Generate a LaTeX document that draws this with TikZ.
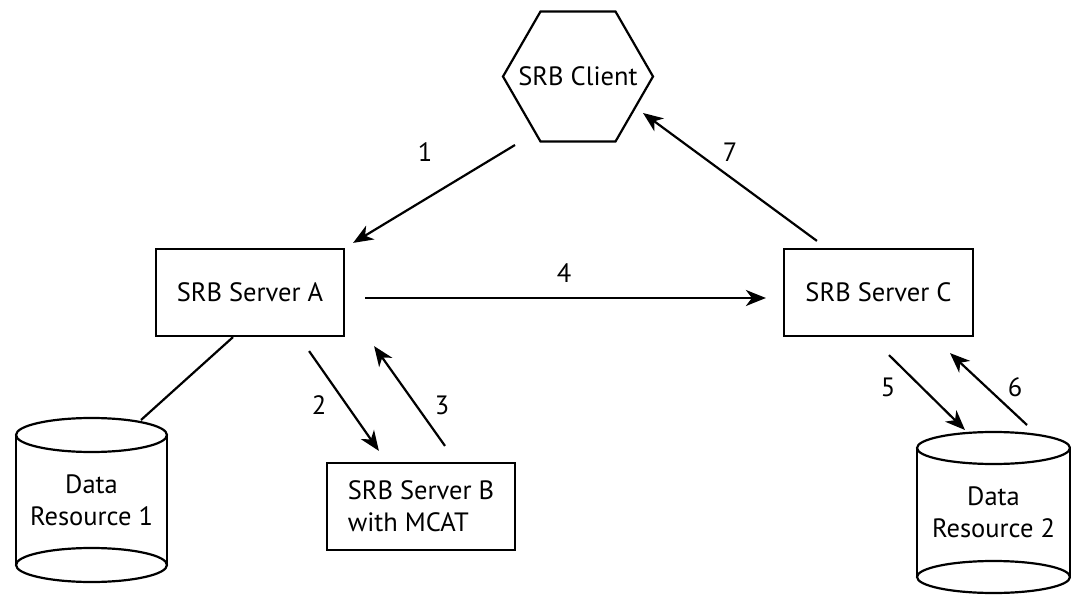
\documentclass[tikz,border=0pt]{standalone}
\usepackage{fontspec}
\setmainfont{PT Sans}
\usetikzlibrary{arrows.meta,calc}

% storage drum around a named node: #1 node, #2 x radius, #3 y radius of the end ellipses
\newcommand\dbdrum[3]{%
  \draw ($(#1.north)+(0,#3)$) ellipse [x radius=#2pt, y radius=#3pt];
  \draw ($(#1.south)+(0,-#3)$) ellipse [x radius=#2pt, y radius=#3pt];
  \draw ($(#1.north west)+(0,#3)$) -- ($(#1.south west)+(0,-#3)$);
  \draw ($(#1.north east)+(0,#3)$) -- ($(#1.south east)+(0,-#3)$);
}

% flat-topped hexagon around a named node: #1 node, #2 half length of the top edge
\newcommand\hexborder[2]{%
  \draw (#1.west) -- ($(#1.north)+(-#2,0)$) -- ($(#1.north)+(#2,0)$) -- (#1.east)
        -- ($(#1.south)+(#2,0)$) -- ($(#1.south)+(-#2,0)$) -- cycle;
}

\begin{document}
\begin{tikzpicture}[x=1pt, y=-1pt, line width=2.2pt, line join=miter,
  every node/.style={font=\fontsize{26.5}{32}\selectfont},
  box/.style={draw, rectangle, minimum width=188pt, minimum height=87pt, inner sep=0pt, align=center},
  hexa/.style={rectangle, minimum width=150pt, minimum height=130pt, inner sep=0pt, outer sep=0pt},
  db/.style={rectangle, inner sep=0pt, outer sep=0pt, align=center},
  flow/.style={-{Stealth[length=20pt, width=16pt, inset=6pt]}},
  num/.style={inner sep=0pt}]

\useasboundingbox (0,0) rectangle (1071,596);

% nodes
\node[hexa] (cli) at (578,76.5) {SRB Client};
\hexborder{cli}{37.5}
\node[box] (srvA) at (250,292.5) {SRB Server A};
\node[box, minimum width=189pt] (srvC) at (878.5,292.5) {SRB Server C};
\node[box, align=left] (srvB) at (421,506.5) {SRB Server B\\with MCAT};
\node[db, minimum width=151pt, minimum height=164pt] (dr1) at (91.5,500) {Data\\Resource 1};
\node[db, minimum width=153pt, minimum height=161pt] (dr2) at (993.5,512.5) {Data\\Resource 2};

\dbdrum{dr1}{75.5}{17}
\dbdrum{dr2}{76.5}{16}

% connectors
\draw[flow] ([shift={(-63,3.5)}]cli.south) -- ([shift={(8,-5)}]srvA.north east);
\draw[flow] ([shift={(34,-7)}]srvC.north west) -- ([shift={(-10,36.5)}]cli.east);
\draw[flow] ([shift={(20,5.5)}]srvA.east) -- ([shift={(-17,5.5)}]srvC.west);
\draw ([shift={(-17,0)}]srvA.south) -- ([shift={(49.5,-80)}]dr1.center);
\draw[flow] ([shift={(-36,14)}]srvA.south east) -- ([shift={(53,-11)}]srvB.north west);
\draw[flow] ([shift={(24,-16)}]srvB.north) -- ([shift={(29,9)}]srvA.south east);
\draw[flow] ([shift={(10.5,18)}]srvC.south) -- ([shift={(-28.5,-82.5)}]dr2.center);
\draw[flow] ([shift={(33.5,-87.5)}]dr2.center) -- ([shift={(71.5,16)}]srvC.south);

% step numbers
\node[num] (n1) at (425,152) {1};
\node[num] (n7) at (730,152) {7};
\node[num] (n4) at (564,273) {4};
\node[num] (n2) at (319,405) {2};
\node[num] (n3) at (442,405) {3};
\node[num] (n5) at (888,387) {5};
\node[num] (n6) at (1015,387) {6};

\end{tikzpicture}
\end{document}
